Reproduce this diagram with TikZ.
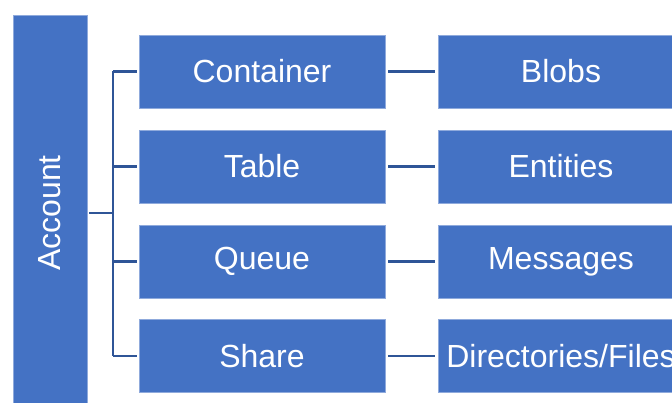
\documentclass[tikz,border=0pt]{standalone}
\usepackage{fontspec}
\setmainfont{Liberation Sans}
\definecolor{boxblue}{HTML}{4472C4}
\definecolor{linkblue}{HTML}{2F5597}
\definecolor{edgeblue}{HTML}{8FAADC}
\begin{document}
\begin{tikzpicture}[x=1pt,y=-1pt,
  box/.style={rectangle, fill=boxblue, draw=edgeblue, line width=0.6pt, text=white,
    minimum width=246pt, minimum height=73pt, inner sep=0pt,
    font=\fontsize{32}{38}\selectfont},
  acct/.style={rectangle, fill=boxblue, draw=edgeblue, line width=0.6pt, text=white,
    minimum width=396pt, minimum height=74pt, inner sep=0pt, rotate=90,
    font=\fontsize{32}{38}\selectfont},
  link/.style={draw=linkblue, line width=2.4pt}]
\useasboundingbox (0,0) rectangle (672,403);
\node[acct] (acc) at (50,213) {Account};
\node[box] (c1) at (262,71.5) {Container};
\node[box] (c2) at (262,166.5) {Table};
\node[box] (c3) at (262,261.5) {Queue};
\node[box] (c4) at (262,356) {Share};
\node[box] (r1) at (561,71.5) {Blobs};
\node[box] (r2) at (561,166.5) {Entities};
\node[box] (r3) at (561,261.5) {Messages};
\node[box] (r4) at (561,356) {Directories/Files};
\coordinate (bus) at (113,213);
\draw[link] ([xshift=2pt]acc.south |- bus) -- (bus);
\draw[link] (bus |- c1.west) -- (bus |- c4.west);
\foreach \i in {1,2,3,4}{
  \draw[link, shorten >=2pt] (bus |- c\i.west) -- (c\i.west);
  \draw[link, shorten >=3pt, shorten <=3pt] (c\i.east) -- (r\i.west);
}
\end{tikzpicture}
\end{document}
